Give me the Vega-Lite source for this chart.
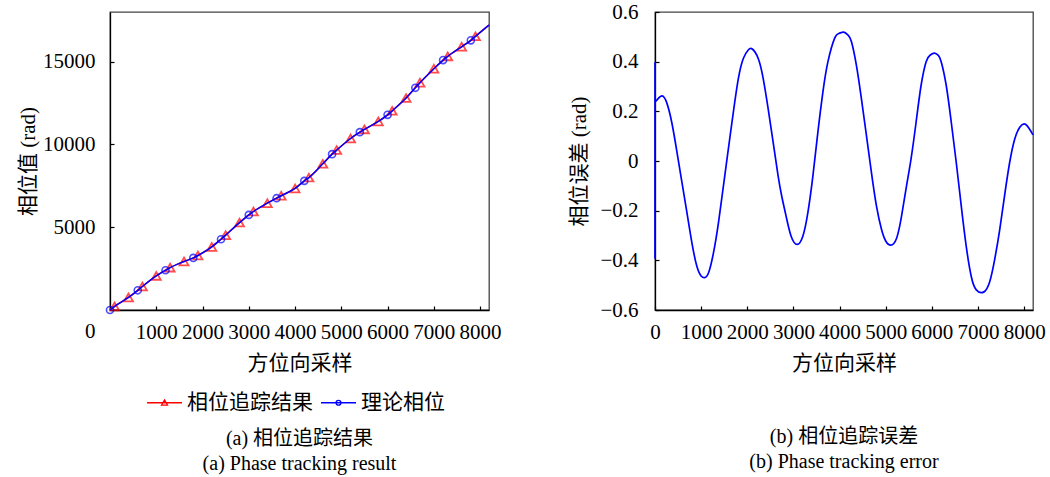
{
  "$schema": "https://vega.github.io/schema/vega-lite/v6.json",
  "background": "white",
  "padding": {"left": 16, "top": 0, "right": 10, "bottom": 0},
  "bounds": "flush",
  "spacing": 166,
  "config": {
    "font": "Liberation Serif, Noto Sans CJK SC",
    "view": {"stroke": "#444", "strokeWidth": 1.3},
    "axis": {
      "labelFont": "Liberation Serif, Noto Sans CJK SC",
      "titleFont": "Liberation Serif, Noto Sans CJK SC",
      "labelFontSize": 21,
      "titleFontSize": 21,
      "titleFontWeight": "normal",
      "labelColor": "black",
      "titleColor": "black",
      "domainColor": "black",
      "domainWidth": 1.3,
      "tickColor": "black",
      "tickWidth": 1.2,
      "tickSize": -4,
      "grid": false,
      "labelOverlap": false,
      "labelFlush": false
    },
    "legend": {
      "labelFont": "Liberation Serif, Noto Sans CJK SC",
      "labelFontSize": 21,
      "labelColor": "black"
    },
    "title": {
      "font": "Liberation Serif, Noto Sans CJK SC",
      "fontSize": 20,
      "fontWeight": "normal",
      "color": "black"
    }
  },
  "datasets": {
    "phase": [
      {"s": "相位追踪结果", "x": 0, "y": 0, "mk": 0},
      {"s": "相位追踪结果", "x": 100, "y": 220, "mk": 1},
      {"s": "相位追踪结果", "x": 400, "y": 760, "mk": 1},
      {"s": "相位追踪结果", "x": 600, "y": 1190, "mk": 0},
      {"s": "相位追踪结果", "x": 700, "y": 1420, "mk": 1},
      {"s": "相位追踪结果", "x": 1000, "y": 2060, "mk": 1},
      {"s": "相位追踪结果", "x": 1200, "y": 2400, "mk": 0},
      {"s": "相位追踪结果", "x": 1300, "y": 2560, "mk": 1},
      {"s": "相位追踪结果", "x": 1600, "y": 2930, "mk": 1},
      {"s": "相位追踪结果", "x": 1800, "y": 3145, "mk": 0},
      {"s": "相位追踪结果", "x": 1900, "y": 3290, "mk": 1},
      {"s": "相位追踪结果", "x": 2200, "y": 3810, "mk": 1},
      {"s": "相位追踪结果", "x": 2400, "y": 4275, "mk": 0},
      {"s": "相位追踪结果", "x": 2500, "y": 4520, "mk": 1},
      {"s": "相位追踪结果", "x": 2800, "y": 5280, "mk": 1},
      {"s": "相位追踪结果", "x": 3000, "y": 5745, "mk": 0},
      {"s": "相位追踪结果", "x": 3100, "y": 5950, "mk": 1},
      {"s": "相位追踪结果", "x": 3400, "y": 6450, "mk": 1},
      {"s": "相位追踪结果", "x": 3600, "y": 6753, "mk": 0},
      {"s": "相位追踪结果", "x": 3700, "y": 6900, "mk": 1},
      {"s": "相位追踪结果", "x": 4000, "y": 7340, "mk": 1},
      {"s": "相位追踪结果", "x": 4200, "y": 7800, "mk": 0},
      {"s": "相位追踪结果", "x": 4300, "y": 8000, "mk": 1},
      {"s": "相位追踪结果", "x": 4600, "y": 8830, "mk": 1},
      {"s": "相位追踪结果", "x": 4800, "y": 9414, "mk": 0},
      {"s": "相位追踪结果", "x": 4900, "y": 9660, "mk": 1},
      {"s": "相位追踪结果", "x": 5200, "y": 10360, "mk": 1},
      {"s": "相位追踪结果", "x": 5400, "y": 10744, "mk": 0},
      {"s": "相位追踪结果", "x": 5500, "y": 10910, "mk": 1},
      {"s": "相位追踪结果", "x": 5800, "y": 11390, "mk": 1},
      {"s": "相位追踪结果", "x": 6000, "y": 11790, "mk": 0},
      {"s": "相位追踪结果", "x": 6100, "y": 12030, "mk": 1},
      {"s": "相位追踪结果", "x": 6400, "y": 12800, "mk": 1},
      {"s": "相位追踪结果", "x": 6600, "y": 13422, "mk": 0},
      {"s": "相位追踪结果", "x": 6700, "y": 13730, "mk": 1},
      {"s": "相位追踪结果", "x": 7000, "y": 14570, "mk": 1},
      {"s": "相位追踪结果", "x": 7200, "y": 15097, "mk": 0},
      {"s": "相位追踪结果", "x": 7300, "y": 15320, "mk": 1},
      {"s": "相位追踪结果", "x": 7600, "y": 15900, "mk": 1},
      {"s": "相位追踪结果", "x": 7800, "y": 16288, "mk": 0},
      {"s": "相位追踪结果", "x": 7900, "y": 16530, "mk": 1},
      {"s": "相位追踪结果", "x": 8192, "y": 17213, "mk": 0},
      {"s": "理论相位", "x": 0, "y": 0, "mk": 1},
      {"s": "理论相位", "x": 100, "y": 220, "mk": 0},
      {"s": "理论相位", "x": 400, "y": 760, "mk": 0},
      {"s": "理论相位", "x": 600, "y": 1190, "mk": 1},
      {"s": "理论相位", "x": 700, "y": 1420, "mk": 0},
      {"s": "理论相位", "x": 1000, "y": 2060, "mk": 0},
      {"s": "理论相位", "x": 1200, "y": 2400, "mk": 1},
      {"s": "理论相位", "x": 1300, "y": 2560, "mk": 0},
      {"s": "理论相位", "x": 1600, "y": 2930, "mk": 0},
      {"s": "理论相位", "x": 1800, "y": 3145, "mk": 1},
      {"s": "理论相位", "x": 1900, "y": 3290, "mk": 0},
      {"s": "理论相位", "x": 2200, "y": 3810, "mk": 0},
      {"s": "理论相位", "x": 2400, "y": 4275, "mk": 1},
      {"s": "理论相位", "x": 2500, "y": 4520, "mk": 0},
      {"s": "理论相位", "x": 2800, "y": 5280, "mk": 0},
      {"s": "理论相位", "x": 3000, "y": 5745, "mk": 1},
      {"s": "理论相位", "x": 3100, "y": 5950, "mk": 0},
      {"s": "理论相位", "x": 3400, "y": 6450, "mk": 0},
      {"s": "理论相位", "x": 3600, "y": 6753, "mk": 1},
      {"s": "理论相位", "x": 3700, "y": 6900, "mk": 0},
      {"s": "理论相位", "x": 4000, "y": 7340, "mk": 0},
      {"s": "理论相位", "x": 4200, "y": 7800, "mk": 1},
      {"s": "理论相位", "x": 4300, "y": 8000, "mk": 0},
      {"s": "理论相位", "x": 4600, "y": 8830, "mk": 0},
      {"s": "理论相位", "x": 4800, "y": 9414, "mk": 1},
      {"s": "理论相位", "x": 4900, "y": 9660, "mk": 0},
      {"s": "理论相位", "x": 5200, "y": 10360, "mk": 0},
      {"s": "理论相位", "x": 5400, "y": 10744, "mk": 1},
      {"s": "理论相位", "x": 5500, "y": 10910, "mk": 0},
      {"s": "理论相位", "x": 5800, "y": 11390, "mk": 0},
      {"s": "理论相位", "x": 6000, "y": 11790, "mk": 1},
      {"s": "理论相位", "x": 6100, "y": 12030, "mk": 0},
      {"s": "理论相位", "x": 6400, "y": 12800, "mk": 0},
      {"s": "理论相位", "x": 6600, "y": 13422, "mk": 1},
      {"s": "理论相位", "x": 6700, "y": 13730, "mk": 0},
      {"s": "理论相位", "x": 7000, "y": 14570, "mk": 0},
      {"s": "理论相位", "x": 7200, "y": 15097, "mk": 1},
      {"s": "理论相位", "x": 7300, "y": 15320, "mk": 0},
      {"s": "理论相位", "x": 7600, "y": 15900, "mk": 0},
      {"s": "理论相位", "x": 7800, "y": 16288, "mk": 1},
      {"s": "理论相位", "x": 7900, "y": 16530, "mk": 0},
      {"s": "理论相位", "x": 8192, "y": 17213, "mk": 0}
    ],
    "err": [
      {"g": "a", "x": 0, "e": -0.394},
      {"g": "a", "x": 1, "e": 0.353},
      {"g": "a", "x": 3, "e": 0.24},
      {"g": "b", "x": 3, "e": 0.24},
      {"g": "b", "x": 45, "e": 0.246},
      {"g": "b", "x": 153, "e": 0.262},
      {"g": "b", "x": 261, "e": 0.231},
      {"g": "b", "x": 369, "e": 0.15},
      {"g": "b", "x": 477, "e": 0.035},
      {"g": "b", "x": 584, "e": -0.086},
      {"g": "b", "x": 692, "e": -0.208},
      {"g": "b", "x": 800, "e": -0.33},
      {"g": "b", "x": 907, "e": -0.424},
      {"g": "b", "x": 1000, "e": -0.463},
      {"g": "b", "x": 1073, "e": -0.47},
      {"g": "b", "x": 1159, "e": -0.451},
      {"g": "b", "x": 1267, "e": -0.37},
      {"g": "b", "x": 1375, "e": -0.249},
      {"g": "b", "x": 1483, "e": -0.1},
      {"g": "b", "x": 1590, "e": 0.049},
      {"g": "b", "x": 1698, "e": 0.197},
      {"g": "b", "x": 1806, "e": 0.332},
      {"g": "b", "x": 1914, "e": 0.413},
      {"g": "b", "x": 2021, "e": 0.447},
      {"g": "b", "x": 2108, "e": 0.451},
      {"g": "b", "x": 2237, "e": 0.413},
      {"g": "b", "x": 2345, "e": 0.332},
      {"g": "b", "x": 2452, "e": 0.211},
      {"g": "b", "x": 2560, "e": 0.076},
      {"g": "b", "x": 2668, "e": -0.06},
      {"g": "b", "x": 2750, "e": -0.145},
      {"g": "b", "x": 2841, "e": -0.222},
      {"g": "b", "x": 2950, "e": -0.303},
      {"g": "b", "x": 3080, "e": -0.336},
      {"g": "b", "x": 3204, "e": -0.303},
      {"g": "b", "x": 3313, "e": -0.208},
      {"g": "b", "x": 3422, "e": -0.06},
      {"g": "b", "x": 3530, "e": 0.116},
      {"g": "b", "x": 3639, "e": 0.278},
      {"g": "b", "x": 3748, "e": 0.4},
      {"g": "b", "x": 3892, "e": 0.494},
      {"g": "b", "x": 3990, "e": 0.514},
      {"g": "b", "x": 4088, "e": 0.519},
      {"g": "b", "x": 4180, "e": 0.508},
      {"g": "b", "x": 4256, "e": 0.481},
      {"g": "b", "x": 4364, "e": 0.386},
      {"g": "b", "x": 4473, "e": 0.251},
      {"g": "b", "x": 4582, "e": 0.103},
      {"g": "b", "x": 4690, "e": -0.046},
      {"g": "b", "x": 4799, "e": -0.181},
      {"g": "b", "x": 4908, "e": -0.275},
      {"g": "b", "x": 5000, "e": -0.322},
      {"g": "b", "x": 5110, "e": -0.339},
      {"g": "b", "x": 5234, "e": -0.312},
      {"g": "b", "x": 5343, "e": -0.222},
      {"g": "b", "x": 5451, "e": -0.1},
      {"g": "b", "x": 5550, "e": 0.01},
      {"g": "b", "x": 5659, "e": 0.157},
      {"g": "b", "x": 5767, "e": 0.305},
      {"g": "b", "x": 5876, "e": 0.4},
      {"g": "b", "x": 5960, "e": 0.426},
      {"g": "b", "x": 6057, "e": 0.434},
      {"g": "b", "x": 6140, "e": 0.425},
      {"g": "b", "x": 6202, "e": 0.4},
      {"g": "b", "x": 6311, "e": 0.305},
      {"g": "b", "x": 6420, "e": 0.157},
      {"g": "b", "x": 6528, "e": -0.005},
      {"g": "b", "x": 6637, "e": -0.181},
      {"g": "b", "x": 6746, "e": -0.345},
      {"g": "b", "x": 6854, "e": -0.465},
      {"g": "b", "x": 6963, "e": -0.519},
      {"g": "b", "x": 7122, "e": -0.528},
      {"g": "b", "x": 7252, "e": -0.487},
      {"g": "b", "x": 7361, "e": -0.397},
      {"g": "b", "x": 7470, "e": -0.277},
      {"g": "b", "x": 7574, "e": -0.142},
      {"g": "b", "x": 7687, "e": -0.005},
      {"g": "b", "x": 7796, "e": 0.089},
      {"g": "b", "x": 7905, "e": 0.136},
      {"g": "b", "x": 8036, "e": 0.147},
      {"g": "b", "x": 8192, "e": 0.105}
    ]
  },
  "hconcat": [
    {
      "width": 379,
      "height": 298,
      "data": {"name": "phase"},
      "title": {
        "text": ["(a) 相位追踪结果", "(a) Phase tracking result"],
        "orient": "bottom",
        "anchor": "middle",
        "frame": "group",
        "lineHeight": 25,
        "offset": 56
      },
      "encoding": {
        "x": {
          "field": "x",
          "type": "quantitative",
          "scale": {"domain": [0, 8192], "nice": false, "zero": false},
          "axis": {
            "values": [1000, 2000, 3000, 4000, 5000, 6000, 7000, 8000],
            "format": "d",
            "title": "方位向采样",
            "labelPadding": 15,
            "titlePadding": 10
          }
        },
        "y": {
          "field": "y",
          "type": "quantitative",
          "scale": {"domain": [0, 18000], "nice": false},
          "axis": {
            "values": [0, 5000, 10000, 15000],
            "format": "d",
            "title": "相位值 (rad)",
            "labelPadding": 19,
            "titlePadding": 4,
            "labelOffset": {"condition": {"test": "datum.value == 0", "value": 21}, "value": 0}
          }
        }
      },
      "layer": [
        {
          "transform": [{"filter": "datum.s == '相位追踪结果'"}],
          "mark": {"type": "line", "interpolate": "monotone", "strokeWidth": 1.5},
          "encoding": {
            "color": {
              "field": "s",
              "type": "nominal",
              "scale": {"domain": ["相位追踪结果", "理论相位"], "range": ["#ff0000", "#0000ff"]},
              "legend": {
                "orient": "none",
                "legendX": 36,
                "legendY": 372,
                "direction": "horizontal",
                "title": null,
                "symbolSize": 1225,
                "symbolStrokeWidth": 1.3,
                "labelOffset": 4,
                "columnPadding": 5,
                "encode": {
                  "symbols": {
                    "update": {
                      "shape": {"signal": "datum.value == '相位追踪结果' ? 'M-1,0H1M0,-0.16L0.17,0.13L-0.17,0.13Z' : 'M-1,0H1M0.14,0A0.14,0.14,0,1,1,-0.14,0A0.14,0.14,0,1,1,0.14,0'"},
                      "fill": {"value": "transparent"}
                    }
                  }
                }
              }
            }
          }
        },
        {
          "transform": [{"filter": "datum.s == '相位追踪结果' && datum.mk == 1"}],
          "mark": {"type": "point", "shape": "triangle-up", "color": "#ff0000", "filled": false, "size": 80, "strokeWidth": 1.8}
        },
        {
          "transform": [{"filter": "datum.s == '理论相位'"}],
          "mark": {"type": "line", "interpolate": "monotone", "strokeWidth": 1.5},
          "encoding": {
            "color": {"field": "s", "type": "nominal"}
          }
        },
        {
          "transform": [{"filter": "datum.s == '理论相位' && datum.mk == 1"}],
          "mark": {"type": "point", "shape": "circle", "color": "#0000ff", "filled": false, "size": 50, "strokeWidth": 1.6}
        }
      ]
    },
    {
      "width": 378,
      "height": 298,
      "data": {"name": "err"},
      "title": {
        "text": ["(b) 相位追踪误差", "(b) Phase tracking error"],
        "orient": "bottom",
        "anchor": "middle",
        "frame": "group",
        "lineHeight": 25,
        "offset": 54
      },
      "mark": {"type": "line", "interpolate": "natural", "color": "#0000ff", "strokeWidth": 1.7},
      "encoding": {
        "detail": {"field": "g", "type": "nominal"},
        "x": {
          "field": "x",
          "type": "quantitative",
          "scale": {"domain": [0, 8192], "nice": false, "zero": false},
          "axis": {
            "values": [0, 1000, 2000, 3000, 4000, 5000, 6000, 7000, 8000],
            "format": "d",
            "title": "方位向采样",
            "labelPadding": 15,
            "titlePadding": 10
          }
        },
        "y": {
          "field": "e",
          "type": "quantitative",
          "scale": {"domain": [-0.6, 0.6], "nice": false},
          "axis": {
            "values": [-0.6, -0.4, -0.2, 0, 0.2, 0.4, 0.6],
            "labelExpr": "datum.value == 0 ? '0' : format(datum.value, '.1f')",
            "title": "相位误差 (rad)",
            "labelPadding": 21,
            "titlePadding": 10
          }
        }
      }
    }
  ]
}
